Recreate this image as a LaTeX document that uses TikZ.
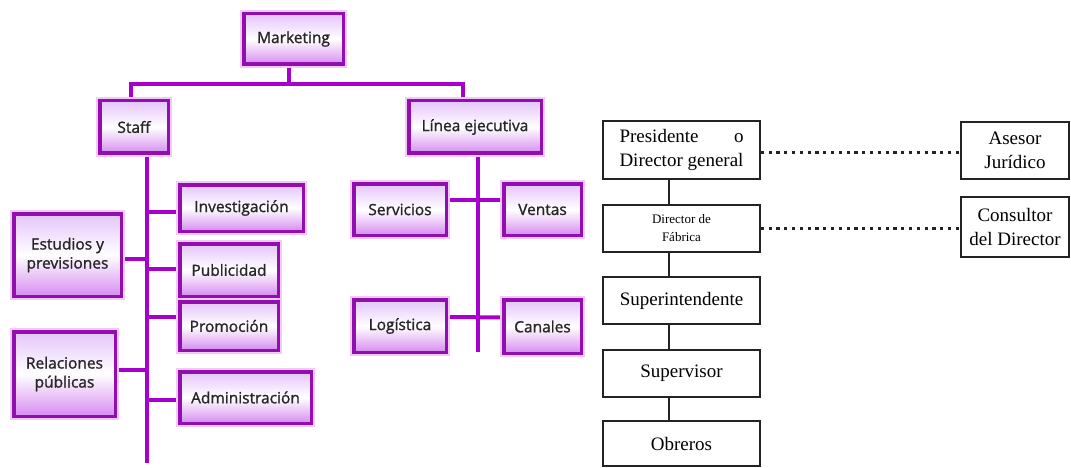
\documentclass[tikz,border=0pt]{standalone}
\usepackage{fontspec}
\setmainfont{Liberation Serif}
\newfontfamily\comicf[BoldFont={Open Sans}, BoldFeatures={FakeBold=1.3}]{Open Sans}
\usetikzlibrary{backgrounds}
\definecolor{pborder}{RGB}{145,15,175}
\definecolor{pline}{RGB}{165,0,205}
\definecolor{pglow}{RGB}{244,200,250}
\definecolor{ptop}{RGB}{228,196,250}
\definecolor{pbot}{RGB}{214,140,240}
\definecolor{rline}{RGB}{35,35,35}
\begin{document}
\begin{tikzpicture}[x=1pt,y=-1pt,
  pbox/.style={rectangle, draw=pborder, line width=3.5pt, top color=ptop, bottom color=pbot, middle color=white,
    inner sep=0pt, align=center, text=black!85, font=\comicf\bfseries\fontsize{15.5}{19}\selectfont,
    preaction={draw=pglow, line width=8pt}},
  conn/.style={draw=pline, line width=4pt, line join=miter},
  rbox/.style={rectangle, draw=rline, line width=1.6pt, fill=white, inner sep=0pt, align=center,
    font=\fontsize{19}{24}\selectfont},
  rconn/.style={draw=rline, line width=1.6pt},
  rdot/.style={draw=rline, line width=3pt, dash pattern=on 3.2pt off 4.6pt}
]
\useasboundingbox (0,0) rectangle (1071,468);

% ---- left chart ----
\node[pbox, minimum width=99.5pt, minimum height=50.5pt] (mk) at (293.5,39) {Marketing};
\node[pbox, minimum width=68.5pt, minimum height=52.5pt] (staff) at (134,127) {Staff};
\node[pbox, minimum width=132.5pt, minimum height=52.5pt] (linea) at (475,127) {Línea ejecutiva};
\node[pbox, minimum width=92.5pt, minimum height=51.5pt] (serv) at (400,209.5) {Servicios};
\node[pbox, minimum width=77.5pt, minimum height=51.5pt] (vent) at (542.5,209.5) {Ventas};
\node[pbox, minimum width=92.5pt, minimum height=52.5pt] (logi) at (400,326) {Logística};
\node[pbox, minimum width=77.5pt, minimum height=53.5pt] (cana) at (542.5,326.5) {Canales};
\node[pbox, minimum width=123.5pt, minimum height=46.5pt] (inv) at (241.5,208) {Investigación};
\node[pbox, minimum width=98.5pt, minimum height=52.5pt] (pub) at (229,270) {Publicidad};
\node[pbox, minimum width=98.5pt, minimum height=48.5pt] (prom) at (229,326) {Promoción};
\node[pbox, minimum width=131.5pt, minimum height=51.5pt] (adm) at (245.5,397.5) {Administración};
\node[pbox, minimum width=107.5pt, minimum height=82.5pt] (est) at (67.5,255) {Estudios y\\previsiones};
\node[pbox, minimum width=101.5pt, minimum height=84.5pt] (rel) at (64.5,374) {Relaciones\\públicas};

\coordinate (mkx) at (289,84);
\coordinate (xs) at (131,84);
\coordinate (xl) at (463,84);
\coordinate (st) at (147,463);
\coordinate (lt) at (478,352);

\begin{scope}[on background layer]
  \fill[white] (0,0) rectangle (1071,468);
  \draw[conn] (mk.south -| mkx) -- (mkx);
  \draw[conn] (staff.north -| xs) |- (xl) -- (linea.north -| xl);
  \draw[conn] (staff.south -| st) -- (st);
  \draw[conn] (st |- inv.west) ++(0,4) -- ([yshift=-4pt]inv.west);
  \draw[conn] (st |- est.east) ++(0,4) -- ([yshift=-4pt]est.east);
  \draw[conn] (st |- pub.west) ++(0,-1) -- ([yshift=1pt]pub.west);
  \draw[conn] (st |- prom.west) ++(0,-9) -- ([yshift=9pt]prom.west);
  \draw[conn] (st |- rel.east) ++(0,-4) -- ([yshift=4pt]rel.east);
  \draw[conn] (st |- adm.west) ++(0,2.5) -- ([yshift=-2.5pt]adm.west);
  \draw[conn] (linea.south -| lt) -- (lt);
  \draw[conn] ([yshift=9.5pt]serv.east) -- ([yshift=9.5pt]vent.west);
  \draw[conn] ([yshift=9pt]logi.east) -- ([yshift=9pt]cana.west);
\end{scope}

% ---- right chart ----
\node[rbox, minimum width=157pt, minimum height=58pt] (pres) at (681.5,150)
  {\hbox to 124pt{Presidente\hfill o}\\Director general};
\node[rbox, minimum width=157pt, minimum height=47pt, font=\fontsize{13}{18}\selectfont] (dirf) at (681.5,228.5)
  {Director de\\Fábrica};
\node[rbox, minimum width=157pt, minimum height=47pt] (sup) at (681.5,300.5) {Superintendente};
\node[rbox, minimum width=157pt, minimum height=47pt] (supv) at (681.5,373.5) {Supervisor};
\node[rbox, minimum width=157pt, minimum height=45pt] (obr) at (681.5,443.5) {Obreros};
\node[rbox, minimum width=108pt, minimum height=57pt] (ase) at (1015,150.5) {Asesor\\Jurídico};
\node[rbox, minimum width=108pt, minimum height=60pt] (cons) at (1015,227) {Consultor\\del Director};

\coordinate (rt) at (669,0);
\draw[rconn] (pres.south -| rt) -- (dirf.north -| rt);
\draw[rconn] (dirf.south -| rt) -- (sup.north -| rt);
\draw[rconn] (sup.south -| rt) -- (supv.north -| rt);
\draw[rconn] (supv.south -| rt) -- (obr.north -| rt);
\draw[rdot] ([yshift=-3pt]pres.east) -- ([yshift=-3pt]pres.east -| ase.west);
\draw[rdot] (dirf.east) -- (dirf.east -| cons.west);
\end{tikzpicture}
\end{document}
